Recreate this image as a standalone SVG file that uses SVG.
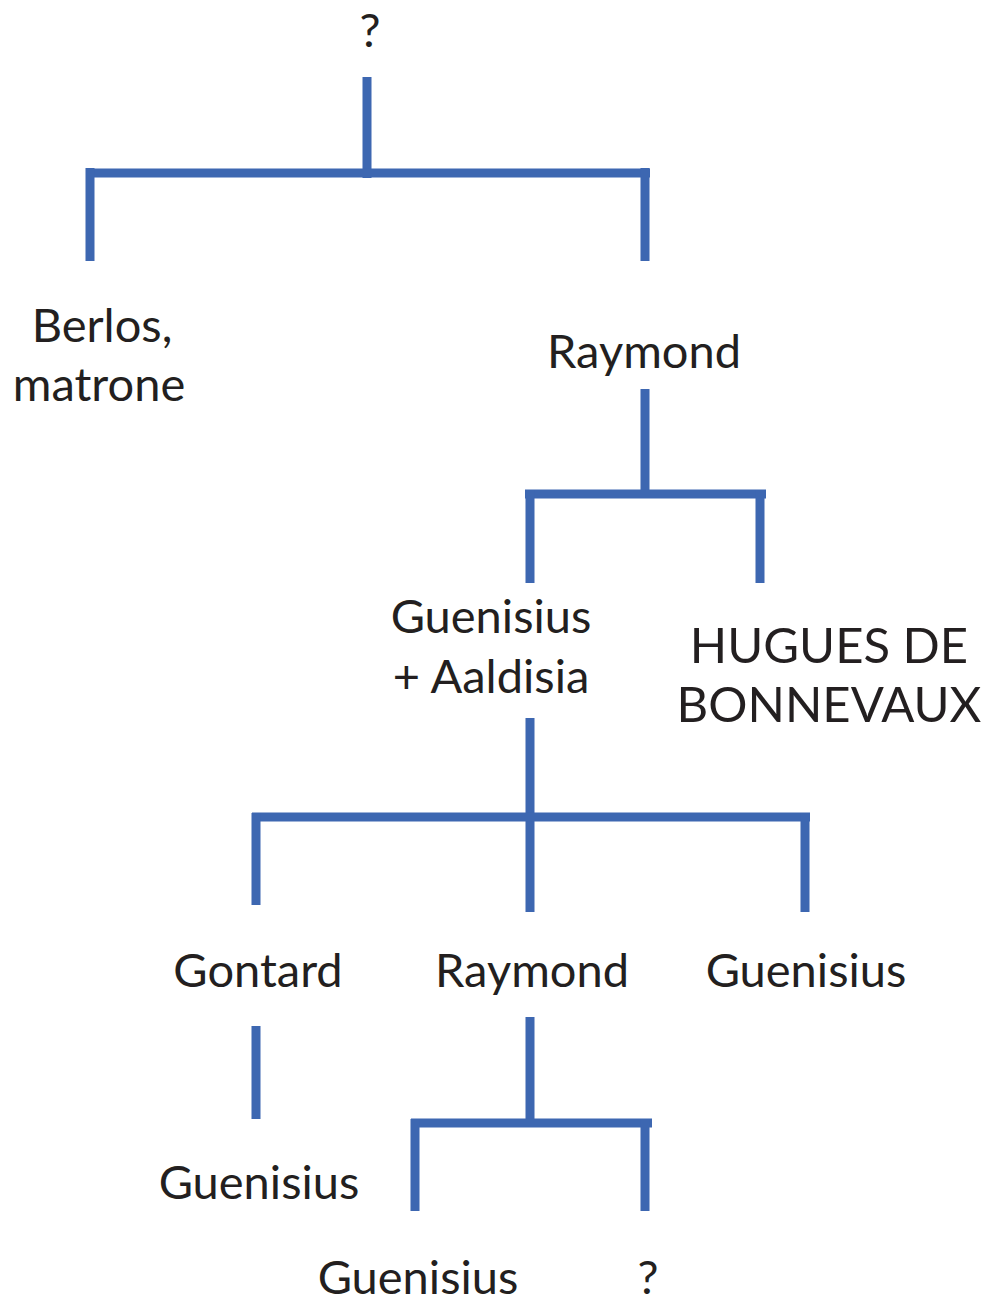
<svg xmlns="http://www.w3.org/2000/svg" width="987" height="1302" viewBox="0 0 987 1302">
<style>
.t{font-family:Lato,"Open Sans",sans-serif;font-size:47px;fill:#231f20;text-anchor:middle}
.caps{font-size:49px}
.c line{stroke:#3d67b1;stroke-width:9}
</style>
<rect width="987" height="1302" fill="#fff"/>
<g class="c" id="connectors">
<line x1="367" y1="77" x2="367" y2="178"/>
<line x1="86" y1="173" x2="650" y2="173"/>
<line x1="90" y1="168" x2="90" y2="261"/>
<line x1="645" y1="168" x2="645" y2="261"/>
<line x1="645" y1="389" x2="645" y2="494"/>
<line x1="525" y1="494" x2="766" y2="494"/>
<line x1="530" y1="490" x2="530" y2="583"/>
<line x1="760" y1="490" x2="760" y2="583"/>
<line x1="530" y1="718" x2="530" y2="912"/>
<line x1="252" y1="817" x2="810" y2="817"/>
<line x1="256" y1="813" x2="256" y2="905"/>
<line x1="805" y1="813" x2="805" y2="912"/>
<line x1="256" y1="1026" x2="256" y2="1119"/>
<line x1="530" y1="1017" x2="530" y2="1123"/>
<line x1="411" y1="1123" x2="652" y2="1123"/>
<line x1="415" y1="1119" x2="415" y2="1211"/>
<line x1="645" y1="1119" x2="645" y2="1211"/>
</g>
<g id="n-root"><text class="t" x="370" y="47">?</text></g>
<g id="n-berlos"><text class="t" x="102" y="342">Berlos,</text><text class="t" x="99" y="401">matrone</text></g>
<g id="n-raymond1"><text class="t" x="644" y="368">Raymond</text></g>
<g id="n-guenisius1"><text class="t" x="491" y="633">Guenisius</text><text class="t" x="491" y="693">+ Aaldisia</text></g>
<g id="n-hugues"><text class="t caps" x="829" y="663">HUGUES DE</text><text class="t caps" x="829" y="722">BONNEVAUX</text></g>
<g id="n-gontard"><text class="t" x="258" y="987">Gontard</text></g>
<g id="n-raymond2"><text class="t" x="532" y="987">Raymond</text></g>
<g id="n-guenisius2"><text class="t" x="806" y="987">Guenisius</text></g>
<g id="n-guenisius3"><text class="t" x="259" y="1199">Guenisius</text></g>
<g id="n-guenisius4"><text class="t" x="418" y="1294">Guenisius</text></g>
<g id="n-unknown"><text class="t" x="648" y="1294">?</text></g>
</svg>
